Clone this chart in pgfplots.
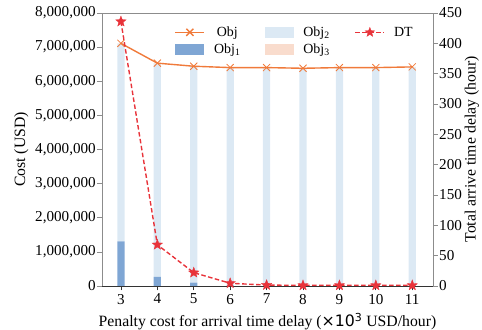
\documentclass[border=0pt]{standalone}
\usepackage{pgfplots}
\pgfplotsset{compat=1.18}
\usepackage{fontspec}
\setmainfont{Liberation Serif}
\newfontfamily\dejavu{DejaVu Sans}
\definecolor{objc}{HTML}{F07A3A}
\definecolor{obj1c}{HTML}{7FA6D4}
\definecolor{obj2c}{HTML}{DCE9F4}
\definecolor{obj3c}{HTML}{F9DCCD}
\definecolor{dtc}{HTML}{E8333A}
\definecolor{spine}{HTML}{8C8C8C}
\pgfdeclareplotmark{fstar}{%
  \pgfpathmoveto{\pgfpointpolar{90}{\pgfplotmarksize}}%
  \pgfpathlineto{\pgfpointpolar{126}{0.42\pgfplotmarksize}}%
  \pgfpathlineto{\pgfpointpolar{162}{\pgfplotmarksize}}%
  \pgfpathlineto{\pgfpointpolar{198}{0.42\pgfplotmarksize}}%
  \pgfpathlineto{\pgfpointpolar{234}{\pgfplotmarksize}}%
  \pgfpathlineto{\pgfpointpolar{270}{0.42\pgfplotmarksize}}%
  \pgfpathlineto{\pgfpointpolar{306}{\pgfplotmarksize}}%
  \pgfpathlineto{\pgfpointpolar{342}{0.42\pgfplotmarksize}}%
  \pgfpathlineto{\pgfpointpolar{18}{\pgfplotmarksize}}%
  \pgfpathlineto{\pgfpointpolar{54}{0.42\pgfplotmarksize}}%
  \pgfpathclose
  \pgfusepathqfillstroke}
\pgfplotsset{
  common/.style={scale only axis, width=331bp, height=273bp,
    xmin=2.48, xmax=11.57, font=\fontsize{15.2}{17}\selectfont,
    tick label style={font=\fontsize{15.2}{17}\selectfont},
    label style={font=\fontsize{15.8}{18}\selectfont},
    yticklabel style={inner sep=1.5bp},
    ylabel style={inner sep=1bp},
    /pgf/number format/assume math mode=true,
    tick align=outside, major tick length=4.5bp, tick style={spine, line width=0.7pt}},
  barleg/.style={legend image code/.code={\fill[##1, draw=none] (0bp,-5.5bp) rectangle (29bp,5.5bp);}},
  lineleg/.style={legend image code/.code={\draw[mark repeat=2,mark phase=2,##1] plot coordinates {(0bp,0bp) (14.5bp,0bp) (29bp,0bp)};}},
  dtstyle/.style={dtc, dash pattern=on 4.5bp off 2.5bp, line width=1.4pt, mark=fstar, mark size=5.5bp, mark options={solid, fill=dtc, line width=0.3pt}},
}
\begin{document}
\begin{tikzpicture}
\begin{axis}[common,
  ymin=0, ymax=8000000,
  ybar stacked, bar width=0.2,
  xtick={3,...,11},
  ytick={0,1000000,2000000,3000000,4000000,5000000,6000000,7000000,8000000},
  scaled y ticks=false,
  yticklabel style={/pgf/number format/fixed, /pgf/number format/1000 sep={,}},
  axis y line*=left, axis x line*=bottom,
  x axis line style={black!80, line width=0.7pt},
  y axis line style={spine, line width=0.7pt},
  xtick style={black!80},
  ylabel={Cost (USD)},
  ylabel shift=4bp,
  xlabel={Penalty cost for arrival time delay ({\dejavu ×10\textsuperscript{3}} USD/hour)},
  xlabel style={yshift=-2bp},
]
\addplot[fill=obj1c, draw=none] coordinates {(3,1310000) (4,270000) (5,100000) (6,20000) (7,5000) (8,5000) (9,5000) (10,5000) (11,5000)};
\addplot[fill=obj2c, draw=none] coordinates {(3,5790000) (4,6250000) (5,6330000) (6,6370000) (7,6385000) (8,6365000) (9,6385000) (10,6385000) (11,6405000)};
\addplot[fill=obj3c, draw=none] coordinates {(3,10000) (4,10000) (5,10000) (6,10000) (7,10000) (8,10000) (9,10000) (10,10000) (11,10000)};
\coordinate (bl) at (rel axis cs:0,0);
\coordinate (tr) at (rel axis cs:1,1);
\end{axis}
\begin{axis}[common, ymin=0, ymax=8000000, hide axis]
\addplot[objc, line width=1.4pt, mark=x, mark size=5bp, mark options={line width=0.8pt}] coordinates {(3,7110000) (4,6530000) (5,6440000) (6,6400000) (7,6400000) (8,6380000) (9,6400000) (10,6400000) (11,6420000)};
\end{axis}
\begin{axis}[common, ymin=0, ymax=450,
  axis y line*=right, axis x line*=top, xtick=\empty,
  x axis line style={spine, line width=0.7pt},
  y axis line style={spine, line width=0.7pt},
  ytick={0,50,...,450},
  ylabel={Total arrive time delay (hour)},
  legend columns=3,
  legend style={draw=none, fill=none, at={(0.21,0.965)}, anchor=north west,
    font=\fontsize{14}{16}\selectfont, column sep=23bp, row sep=2bp,
    /tikz/every odd column/.style={column sep=7bp}},
]
\addlegendimage{lineleg, objc, line width=1.4pt, mark=x, mark size=5bp}
\addlegendentry{Obj}
\addlegendimage{barleg, fill=obj2c}
\addlegendentry{Obj\textsubscript{2}}
\addlegendimage{lineleg, dtstyle, mark size=5bp}
\addlegendentry{DT}
\addlegendimage{barleg, fill=obj1c}
\addlegendentry{Obj\textsubscript{1}}
\addlegendimage{barleg, fill=obj3c}
\addlegendentry{Obj\textsubscript{3}}
\addplot[forget plot, dtstyle] coordinates {(3,436) (4,68) (5,22) (6,4.5) (7,1.5) (8,1) (9,1) (10,1) (11,1)};
\end{axis}
\pgfresetboundingbox
\path ([shift={(-102bp,-44bp)}]bl) rectangle ([shift={(49bp,13bp)}]tr);
\end{tikzpicture}
\end{document}
